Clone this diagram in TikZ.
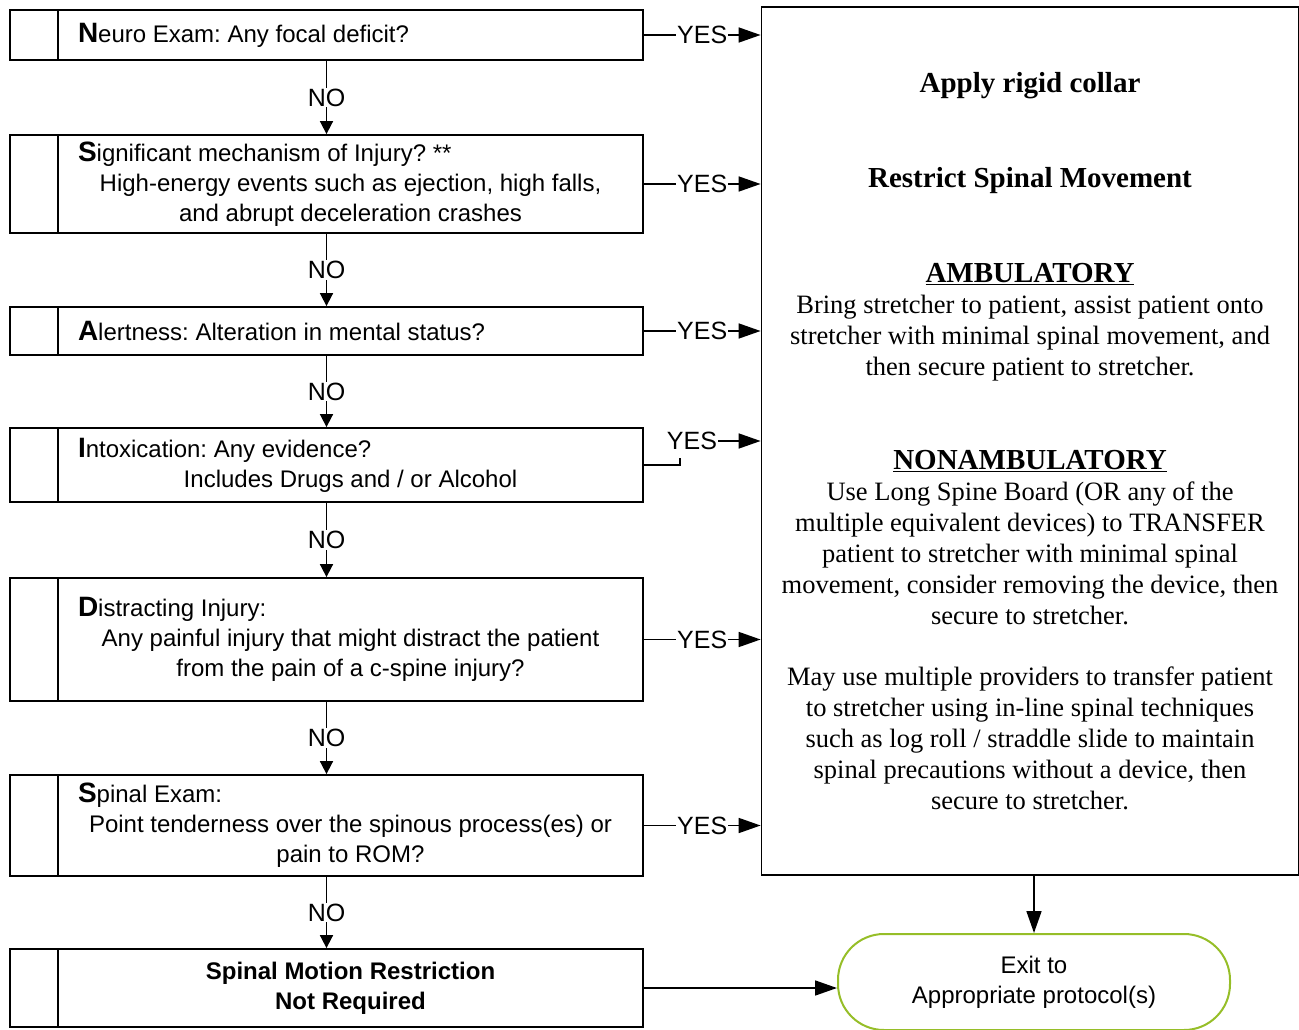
\documentclass[tikz,border=0pt]{standalone}
\usepackage{fontspec}
\setmainfont{Liberation Serif}
\newfontfamily\flowsans{Liberation Sans}
\usetikzlibrary{arrows.meta}
\frenchspacing

\definecolor{exitgreen}{RGB}{150,190,40}
\newcommand{\bigfirst}[1]{{\fontsize{28}{30}\selectfont\bfseries #1}}
\newcommand{\hd}[1]{{\fontsize{29}{31}\selectfont\bfseries #1}}
\newcommand{\qtext}[2]{\hspace*{48pt}\parbox{585pt}{\centering\makebox[545pt][l]{#1}\par #2}}

\begin{document}
\begin{tikzpicture}[x=1pt,y=-1pt,
  procbox/.style={draw, line width=1.8pt, minimum width=633pt, inner sep=0pt,
    font=\flowsans\fontsize{24}{30}\selectfont,
    path picture={\draw[line width=1.8pt]
      ([xshift=48pt]path picture bounding box.north west) --
      ([xshift=48pt]path picture bounding box.south west);}},
  actionbox/.style={draw, line width=1.8pt, minimum width=537pt, minimum height=868pt,
    align=center, font=\fontsize{26.5}{31}\selectfont},
  exitbox/.style={draw=exitgreen, line width=2pt, rounded corners=46pt,
    minimum width=392pt, minimum height=96pt, align=center,
    font=\flowsans\fontsize{24}{30}\selectfont},
  link/.style={line width=1.7pt, -{Triangle[length=13pt,width=13pt]}},
  yeslink/.style={line width=1.7pt, -{Triangle[length=22pt,width=15pt]}},
  lbl/.style={fill=white, inner sep=1pt, font=\flowsans\fontsize{25}{25}\selectfont}]
  \useasboundingbox (0,0) rectangle (1299,1030);

  \node[procbox, minimum height=50pt] (neuro) at (326.5,35)
    {\qtext{\bigfirst{N}euro Exam: Any focal deficit?}{}};
  \node[procbox, minimum height=98pt] (mech) at (326.5,184)
    {\qtext{\bigfirst{S}ignificant mechanism of Injury? **}
      {High-energy events such as ejection, high falls,\\and abrupt deceleration crashes}};
  \node[procbox, minimum height=48pt] (alert) at (326.5,331)
    {\qtext{\bigfirst{A}lertness: Alteration in mental status?}{}};
  \node[procbox, minimum height=74pt] (intox) at (326.5,465)
    {\qtext{\bigfirst{I}ntoxication: Any evidence?}{Includes Drugs and / or Alcohol}};
  \node[procbox, minimum height=123pt] (distract) at (326.5,639.5)
    {\qtext{\bigfirst{D}istracting Injury:}
      {Any painful injury that might distract the patient\\from the pain of a c-spine injury?}};
  \node[procbox, minimum height=101pt] (spinal) at (326.5,825.5)
    {\qtext{\bigfirst{S}pinal Exam:}
      {Point tenderness over the spinous process(es) or\\pain to ROM?}};
  \node[procbox, minimum height=78pt] (notreq) at (326.5,988)
    {\hspace*{48pt}\parbox{585pt}{\centering\bfseries Spinal Motion Restriction\\Not Required}};

  \node[actionbox] (action) at (1030,441) {%
    \hd{Apply rigid collar}\\[64pt]
    \hd{Restrict Spinal Movement}\\[64pt]
    \hd{\underline{AMBULATORY}}\\
    Bring stretcher to patient, assist patient onto\\
    stretcher with minimal spinal movement, and\\
    then secure patient to stretcher.\\[63pt]
    \hd{\underline{NONAMBULATORY}}\\
    Use Long Spine Board (OR any of the\\
    multiple equivalent devices) to TRANSFER\\
    patient to stretcher with minimal spinal\\
    movement, consider removing the device, then\\
    secure to stretcher.\\[30pt]
    May use multiple providers to transfer patient\\
    to stretcher using in-line spinal techniques\\
    such as log roll / straddle slide to maintain\\
    spinal precautions without a device, then\\
    secure to stretcher.};

  \node[exitbox] (exit) at (1034,982) {Exit to\\Appropriate protocol(s)};

  \draw[link] (neuro.south) -- node[lbl] (no1) {NO} (mech.north);
  \draw[link] (mech.south) -- node[lbl] (no2) {NO} (alert.north);
  \draw[link] (alert.south) -- node[lbl] (no3) {NO} (intox.north);
  \draw[link] (intox.south) -- node[lbl] (no4) {NO} (distract.north);
  \draw[link] (distract.south) -- node[lbl] (no5) {NO} (spinal.north);
  \draw[link] (spinal.south) -- node[lbl] (no6) {NO} (notreq.north);

  \draw[yeslink] (neuro.east) -- node[lbl] (yes1) {YES} (neuro.east -| action.west);
  \draw[yeslink] (mech.east) -- node[lbl] (yes2) {YES} (mech.east -| action.west);
  \draw[yeslink] (alert.east) -- node[lbl] (yes3) {YES} (alert.east -| action.west);
  \node[lbl] (yes4) at (692,441) {YES};
  \coordinate (tick4) at (680,458);
  \draw[line width=1.7pt] (intox.east) -| (tick4);
  \draw[yeslink] (yes4.east) -- (yes4.east -| action.west);
  \draw[yeslink] (distract.east) -- node[lbl] (yes5) {YES} (distract.east -| action.west);
  \draw[yeslink] (spinal.east) -- node[lbl] (yes6) {YES} (spinal.east -| action.west);

  \draw[yeslink] (exit.north |- action.south) -- (exit.north);
  \draw[yeslink] (notreq.east) -- (notreq.east -| exit.west);
\end{tikzpicture}
\end{document}
